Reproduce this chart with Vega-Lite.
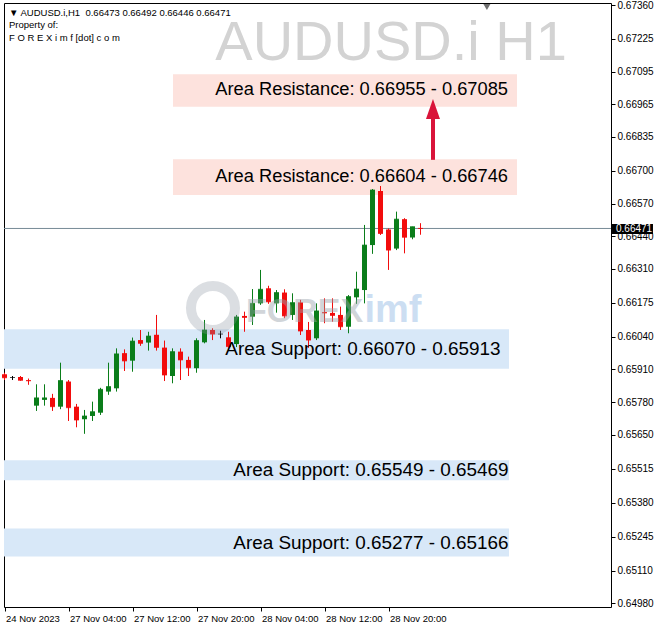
{
  "$schema": "https://vega.github.io/schema/vega-lite/v6.json",
  "width": 607,
  "height": 604,
  "autosize": {"type": "none"},
  "padding": {"left": 4, "top": 3, "right": 47, "bottom": 23},
  "background": "white",
  "config": {
    "view": {"stroke": "#000000", "strokeWidth": 1},
    "font": "Liberation Sans",
    "text": {"font": "Liberation Sans"},
    "axis": {"labelFont": "Liberation Sans", "labelOverlap": false, "labelBound": false}
  },
  "data": {"values": [
    {"i":0,"o":0.65891,"h":0.65897,"l":0.65868,"c":0.65877,"dir":"down"},
    {"i":1,"o":0.65878,"h":0.65884,"l":0.65868,"c":0.65878,"dir":"flat"},
    {"i":2,"o":0.65880,"h":0.65884,"l":0.65865,"c":0.65867,"dir":"down"},
    {"i":3,"o":0.65868,"h":0.65874,"l":0.65849,"c":0.65865,"dir":"down"},
    {"i":4,"o":0.65766,"h":0.65851,"l":0.65745,"c":0.65797,"dir":"up"},
    {"i":5,"o":0.65789,"h":0.65851,"l":0.65766,"c":0.65797,"dir":"up"},
    {"i":6,"o":0.65797,"h":0.65813,"l":0.65745,"c":0.65762,"dir":"down"},
    {"i":7,"o":0.65762,"h":0.65937,"l":0.65752,"c":0.65866,"dir":"up"},
    {"i":8,"o":0.65862,"h":0.65868,"l":0.65705,"c":0.65758,"dir":"down"},
    {"i":9,"o":0.65762,"h":0.65773,"l":0.65680,"c":0.65709,"dir":"down"},
    {"i":10,"o":0.65712,"h":0.65749,"l":0.65654,"c":0.65725,"dir":"up"},
    {"i":11,"o":0.65725,"h":0.65782,"l":0.65705,"c":0.65742,"dir":"up"},
    {"i":12,"o":0.65738,"h":0.65837,"l":0.65729,"c":0.65831,"dir":"up"},
    {"i":13,"o":0.65822,"h":0.65937,"l":0.65809,"c":0.65842,"dir":"up"},
    {"i":14,"o":0.65835,"h":0.65994,"l":0.65822,"c":0.65972,"dir":"up"},
    {"i":15,"o":0.65975,"h":0.65990,"l":0.65904,"c":0.65944,"dir":"down"},
    {"i":16,"o":0.65945,"h":0.66037,"l":0.65901,"c":0.66023,"dir":"up"},
    {"i":17,"o":0.66027,"h":0.66067,"l":0.66004,"c":0.66014,"dir":"down"},
    {"i":18,"o":0.66017,"h":0.66060,"l":0.65985,"c":0.66043,"dir":"up"},
    {"i":19,"o":0.66048,"h":0.66127,"l":0.65985,"c":0.65998,"dir":"down"},
    {"i":20,"o":0.65997,"h":0.66025,"l":0.65864,"c":0.65888,"dir":"down"},
    {"i":21,"o":0.65884,"h":0.65994,"l":0.65855,"c":0.65981,"dir":"up"},
    {"i":22,"o":0.65981,"h":0.65994,"l":0.65868,"c":0.65948,"dir":"down"},
    {"i":23,"o":0.65948,"h":0.65961,"l":0.65884,"c":0.65917,"dir":"down"},
    {"i":24,"o":0.65915,"h":0.66034,"l":0.65897,"c":0.66025,"dir":"up"},
    {"i":25,"o":0.66018,"h":0.66107,"l":0.66014,"c":0.66067,"dir":"up"},
    {"i":26,"o":0.66067,"h":0.66074,"l":0.66027,"c":0.66051,"dir":"down"},
    {"i":27,"o":0.66051,"h":0.66064,"l":0.66034,"c":0.66051,"dir":"flat"},
    {"i":28,"o":0.66038,"h":0.66060,"l":0.65994,"c":0.66001,"dir":"down"},
    {"i":29,"o":0.66011,"h":0.66127,"l":0.65999,"c":0.66119,"dir":"up"},
    {"i":30,"o":0.66123,"h":0.66140,"l":0.66060,"c":0.66117,"dir":"down"},
    {"i":31,"o":0.66120,"h":0.66230,"l":0.66087,"c":0.66173,"dir":"up"},
    {"i":32,"o":0.66173,"h":0.66306,"l":0.66167,"c":0.66229,"dir":"up"},
    {"i":33,"o":0.66233,"h":0.66243,"l":0.66171,"c":0.66179,"dir":"down"},
    {"i":34,"o":0.66173,"h":0.66226,"l":0.66136,"c":0.66216,"dir":"up"},
    {"i":35,"o":0.66216,"h":0.66229,"l":0.66114,"c":0.66123,"dir":"down"},
    {"i":36,"o":0.66127,"h":0.66213,"l":0.66107,"c":0.66176,"dir":"up"},
    {"i":37,"o":0.66177,"h":0.66187,"l":0.66047,"c":0.66063,"dir":"down"},
    {"i":38,"o":0.66067,"h":0.66099,"l":0.65996,"c":0.66027,"dir":"down"},
    {"i":39,"o":0.66034,"h":0.66173,"l":0.66027,"c":0.66143,"dir":"up"},
    {"i":40,"o":0.66138,"h":0.66193,"l":0.66094,"c":0.66135,"dir":"down"},
    {"i":41,"o":0.66135,"h":0.66193,"l":0.66100,"c":0.66125,"dir":"down"},
    {"i":42,"o":0.66127,"h":0.66160,"l":0.66067,"c":0.66080,"dir":"down"},
    {"i":43,"o":0.66080,"h":0.66206,"l":0.66054,"c":0.66200,"dir":"up"},
    {"i":44,"o":0.66197,"h":0.66299,"l":0.66171,"c":0.66230,"dir":"up"},
    {"i":45,"o":0.66226,"h":0.66485,"l":0.66173,"c":0.66405,"dir":"up"},
    {"i":46,"o":0.66405,"h":0.66628,"l":0.66370,"c":0.66624,"dir":"up"},
    {"i":47,"o":0.66620,"h":0.66640,"l":0.66445,"c":0.66451,"dir":"down"},
    {"i":48,"o":0.66467,"h":0.66471,"l":0.66306,"c":0.66385,"dir":"down"},
    {"i":49,"o":0.66391,"h":0.66538,"l":0.66385,"c":0.66508,"dir":"up"},
    {"i":50,"o":0.66508,"h":0.66512,"l":0.66372,"c":0.66436,"dir":"down"},
    {"i":51,"o":0.66435,"h":0.66478,"l":0.66428,"c":0.66478,"dir":"up"},
    {"i":52,"o":0.66473,"h":0.66492,"l":0.66446,"c":0.66471,"dir":"down"}
  ]},
  "layer": [
    {
      "data": {"values": [
        {"kind":"resistance","x0":21.06,"x1":64.06,"lo":0.66955,"hi":0.67085},
        {"kind":"resistance","x0":21.06,"x1":64.06,"lo":0.66604,"hi":0.66746},
        {"kind":"support","x0":-0.0625,"x1":63.06,"lo":0.65913,"hi":0.66070},
        {"kind":"support","x0":-0.0625,"x1":63.06,"lo":0.65469,"hi":0.65549},
        {"kind":"support","x0":-0.0625,"x1":63.06,"lo":0.65166,"hi":0.65277}
      ]},
      "mark": {"type": "rect"},
      "encoding": {
        "x": {"field":"x0","type":"quantitative","scale":{"domain":[-0.0625,75.8125],"nice":false,"zero":false,"padding":0},
          "axis":{"values":[0,8,16,24,32,40,48],"tickCount":30,
            "labelExpr":"datum.value == 0 ? '24 Nov 2023' : datum.value == 8 ? '27 Nov 04:00' : datum.value == 16 ? '27 Nov 12:00' : datum.value == 24 ? '27 Nov 20:00' : datum.value == 32 ? '28 Nov 04:00' : datum.value == 40 ? '28 Nov 12:00' : '28 Nov 20:00'",
            "labelAlign":"left","labelFlush":false,"labelOverlap":false,"labelFontSize":9.5,"labelColor":"#000000","labelOffset":1,"labelPadding":2,
            "tickSize":4,"tickColor":"#000000","domain":false,"grid":false,"title":null}},
        "x2": {"field":"x1"},
        "y": {"field":"lo","type":"quantitative","scale":{"domain":[0.64965,0.67368],"nice":false,"zero":false,"padding":0},
          "axis":{"orient":"right","tickCount":40,"values":[0.6498,0.6511,0.65245,0.6538,0.65515,0.6565,0.6578,0.6591,0.6604,0.66175,0.6631,0.6644,0.6657,0.667,0.66835,0.66965,0.67095,0.67225,0.6736],
            "format":".5f","labelFontSize":10,"labelColor":"#000000","labelPadding":2,"labelOverlap":false,"labelFlush":false,
            "tickSize":4,"tickColor":"#000000","domain":false,"grid":false,"title":null}},
        "y2": {"field":"hi"},
        "color": {"condition":{"test":"datum.kind == 'resistance'","value":"#fde2dd"},"value":"#d8e8f8"}
      }
    },
    {
      "data": {"values": [{}]},
      "mark": {"type":"rule","color":"#778a96","strokeWidth":1},
      "encoding": {
        "y": {"datum":0.66471,"type":"quantitative","scale":{"domain":[0.64965,0.67368],"nice":false,"zero":false,"padding":0}}
      }
    },
    {
      "mark": {"type":"rule","strokeWidth":1},
      "encoding": {
        "x": {"field":"i","type":"quantitative","scale":{"domain":[-0.0625,75.8125],"nice":false,"zero":false,"padding":0}},
        "y": {"field":"l","type":"quantitative","scale":{"domain":[0.64965,0.67368],"nice":false,"zero":false,"padding":0}},
        "y2": {"field":"h"},
        "color": {"condition":[{"test":"datum.dir == 'up'","value":"#0a7d1a"},{"test":"datum.dir == 'down'","value":"#f20c0c"}],"value":"#000000"}
      }
    },
    {
      "mark": {"type":"bar","width":5},
      "encoding": {
        "x": {"field":"i","type":"quantitative","scale":{"domain":[-0.0625,75.8125],"nice":false,"zero":false,"padding":0}},
        "y": {"field":"o","type":"quantitative","scale":{"domain":[0.64965,0.67368],"nice":false,"zero":false,"padding":0}},
        "y2": {"field":"c"},
        "color": {"condition":[{"test":"datum.dir == 'up'","value":"#0a7d1a"},{"test":"datum.dir == 'down'","value":"#f20c0c"}],"value":"#000000"}
      }
    },
    {
      "mark": {"type":"tick","orient":"horizontal","size":5,"thickness":1},
      "encoding": {
        "x": {"field":"i","type":"quantitative","scale":{"domain":[-0.0625,75.8125],"nice":false,"zero":false,"padding":0}},
        "y": {"field":"c","type":"quantitative","scale":{"domain":[0.64965,0.67368],"nice":false,"zero":false,"padding":0}},
        "color": {"condition":[{"test":"datum.dir == 'up'","value":"#0a7d1a"},{"test":"datum.dir == 'down'","value":"#f20c0c"}],"value":"#000000"}
      }
    },
    {
      "data": {"values": [{}]},
      "mark": {"type":"point","shape":"circle","filled":false,"stroke":"#8a93a0","strokeWidth":10,"opacity":0.3,"size":1936},
      "encoding": {
        "x": {"datum":26.06,"type":"quantitative","scale":{"domain":[-0.0625,75.8125],"nice":false,"zero":false,"padding":0}},
        "y": {"datum":0.66155,"type":"quantitative","scale":{"domain":[0.64965,0.67368],"nice":false,"zero":false,"padding":0}}
      }
    },
    {
      "data": {"values": [{}]},
      "mark": {"type":"text","text":"FOREX","align":"left","baseline":"alphabetic","fontSize":34,"fontWeight":"bold","color":"#9aa3ad","opacity":0.45},
      "encoding": {
        "x": {"datum":30.2,"type":"quantitative","scale":{"domain":[-0.0625,75.8125],"nice":false,"zero":false,"padding":0}},
        "y": {"datum":0.66099,"type":"quantitative","scale":{"domain":[0.64965,0.67368],"nice":false,"zero":false,"padding":0}}
      }
    },
    {
      "data": {"values": [{}]},
      "mark": {"type":"text","text":"imf","align":"left","baseline":"alphabetic","fontSize":38,"fontWeight":"bold","color":"#6fa3dc","opacity":0.35},
      "encoding": {
        "x": {"datum":45.0,"type":"quantitative","scale":{"domain":[-0.0625,75.8125],"nice":false,"zero":false,"padding":0}},
        "y": {"datum":0.66099,"type":"quantitative","scale":{"domain":[0.64965,0.67368],"nice":false,"zero":false,"padding":0}}
      }
    },
    {
      "data": {"values": [
        {"label":"Area Resistance: 0.66955 - 0.67085","xe":62.94,"mid":0.67020},
        {"label":"Area Resistance: 0.66604 - 0.66746","xe":62.94,"mid":0.66675}
      ]},
      "mark": {"type":"text","align":"right","baseline":"middle","fontSize":18.3,"color":"#000000"},
      "encoding": {
        "x": {"field":"xe","type":"quantitative","scale":{"domain":[-0.0625,75.8125],"nice":false,"zero":false,"padding":0}},
        "y": {"field":"mid","type":"quantitative","scale":{"domain":[0.64965,0.67368],"nice":false,"zero":false,"padding":0}},
        "text": {"field":"label"}
      }
    },
    {
      "data": {"values": [
        {"label":"Area Support: 0.66070 - 0.65913","xe":62.0,"mid":0.65991},
        {"label":"Area Support: 0.65549 - 0.65469","xe":63.0,"mid":0.65509},
        {"label":"Area Support: 0.65277 - 0.65166","xe":63.0,"mid":0.65221}
      ]},
      "mark": {"type":"text","align":"right","baseline":"middle","fontSize":18.9,"color":"#000000"},
      "encoding": {
        "x": {"field":"xe","type":"quantitative","scale":{"domain":[-0.0625,75.8125],"nice":false,"zero":false,"padding":0}},
        "y": {"field":"mid","type":"quantitative","scale":{"domain":[0.64965,0.67368],"nice":false,"zero":false,"padding":0}},
        "text": {"field":"label"}
      }
    },
    {
      "data": {"values": [{}]},
      "mark": {"type":"text","text":"AUDUSD.i H1","align":"right","baseline":"alphabetic","fontSize":56,"color":"#d3d3d3"},
      "encoding": {
        "x": {"datum":70.3,"type":"quantitative","scale":{"domain":[-0.0625,75.8125],"nice":false,"zero":false,"padding":0}},
        "y": {"datum":0.67141,"type":"quantitative","scale":{"domain":[0.64965,0.67368],"nice":false,"zero":false,"padding":0}}
      }
    },
    {
      "data": {"values": [{}]},
      "mark": {"type":"rule","color":"#d9143a","strokeWidth":4},
      "encoding": {
        "x": {"datum":53.56,"type":"quantitative","scale":{"domain":[-0.0625,75.8125],"nice":false,"zero":false,"padding":0}},
        "y": {"datum":0.66744,"type":"quantitative","scale":{"domain":[0.64965,0.67368],"nice":false,"zero":false,"padding":0}},
        "y2": {"datum":0.66925}
      }
    },
    {
      "data": {"values": [{}]},
      "mark": {"type":"point","shape":"M0,-1L0.7,1L-0.7,1Z","filled":true,"color":"#d9143a","opacity":1,"size":400,"strokeWidth":0},
      "encoding": {
        "x": {"datum":53.56,"type":"quantitative","scale":{"domain":[-0.0625,75.8125],"nice":false,"zero":false,"padding":0}},
        "y": {"datum":0.66946,"type":"quantitative","scale":{"domain":[0.64965,0.67368],"nice":false,"zero":false,"padding":0}}
      }
    },
    {
      "data": {"values": [{}]},
      "mark": {"type":"text","text":["▼ AUDUSD.i,H1\u00a0\u00a00.66473 0.66492 0.66446 0.66471","Property of:","F O R E X i m f [dot] c o m"],"align":"left","baseline":"middle","fontSize":9.5,"lineHeight":12.3,"color":"#000000"},
      "encoding": {
        "x": {"datum":0.56,"type":"quantitative","scale":{"domain":[-0.0625,75.8125],"nice":false,"zero":false,"padding":0}},
        "y": {"datum":0.67328,"type":"quantitative","scale":{"domain":[0.64965,0.67368],"nice":false,"zero":false,"padding":0}}
      }
    },
    {
      "data": {"values": [{}]},
      "mark": {"type":"point","shape":"triangle-down","filled":true,"color":"#6f6f6f","opacity":1,"size":50},
      "encoding": {
        "x": {"datum":60.3,"type":"quantitative","scale":{"domain":[-0.0625,75.8125],"nice":false,"zero":false,"padding":0}},
        "y": {"datum":0.67352,"type":"quantitative","scale":{"domain":[0.64965,0.67368],"nice":false,"zero":false,"padding":0}}
      }
    },
    {
      "data": {"values": [{}]},
      "mark": {"type":"rect","color":"#000000"},
      "encoding": {
        "x": {"datum":75.94,"type":"quantitative","scale":{"domain":[-0.0625,75.8125],"nice":false,"zero":false,"padding":0}},
        "x2": {"datum":81.06},
        "y": {"datum":0.66449,"type":"quantitative","scale":{"domain":[0.64965,0.67368],"nice":false,"zero":false,"padding":0}},
        "y2": {"datum":0.66489}
      }
    },
    {
      "data": {"values": [{}]},
      "mark": {"type":"text","text":"0.66471","align":"left","baseline":"middle","fontSize":10,"color":"#ffffff"},
      "encoding": {
        "x": {"datum":76.44,"type":"quantitative","scale":{"domain":[-0.0625,75.8125],"nice":false,"zero":false,"padding":0}},
        "y": {"datum":0.66469,"type":"quantitative","scale":{"domain":[0.64965,0.67368],"nice":false,"zero":false,"padding":0}}
      }
    }
  ]
}
